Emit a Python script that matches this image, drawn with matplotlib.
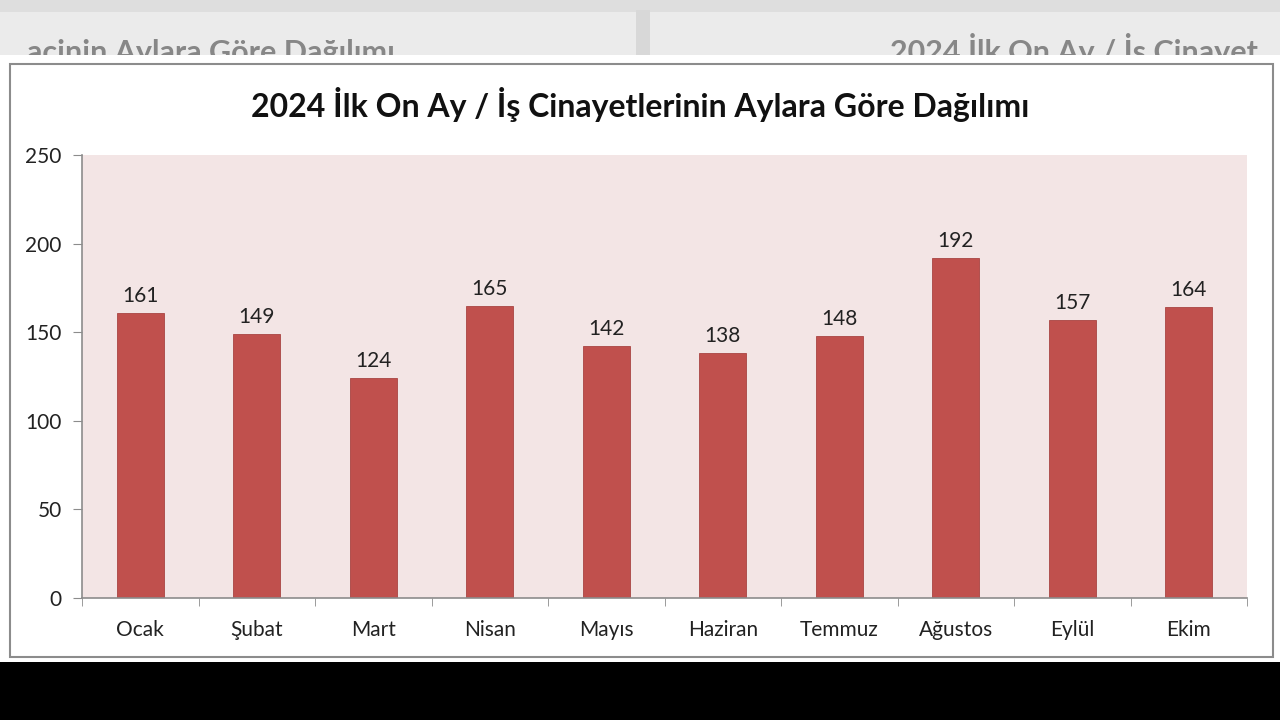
import matplotlib
matplotlib.use("Agg")
import matplotlib.pyplot as plt
from matplotlib.patches import Rectangle

months = ["Ocak", "Şubat", "Mart", "Nisan", "Mayıs", "Haziran", "Temmuz", "Ağustos", "Eylül", "Ekim"]
values = [161, 149, 124, 165, 142, 138, 148, 192, 157, 164]
yticks = [0, 50, 100, 150, 200, 250]
title = "2024 İlk On Ay / İş Cinayetlerinin Aylara Göre Dağılımı"
bg_left = "acinin Aylara Göre Dağılımı"
bg_right = "2024 İlk On Ay / İş Cinayet"

W, H = 1280, 720
fig = plt.figure(figsize=(12.8, 7.2), dpi=100)
fig.patch.set_facecolor("white")

def fx(px):
    return px / W

def fy(py):
    return 1 - py / H

font = "Lato"

# background screenshot elements
fig.patches.append(Rectangle((0, fy(55)), 1, 55 / H, transform=fig.transFigure,
                             facecolor="#ebebeb", edgecolor="none", zorder=0))
fig.patches.append(Rectangle((0, fy(12)), 1, 12 / H, transform=fig.transFigure,
                             facecolor="#dedede", edgecolor="none", zorder=0))
fig.patches.append(Rectangle((fx(636), fy(55)), 14 / W, 45 / H, transform=fig.transFigure,
                             facecolor="#d8d8d8", edgecolor="none", zorder=0))
fig.text(fx(395), fy(62), bg_left, ha="right", va="baseline", fontsize=22,
         fontweight="bold", family=font, color="#444444", alpha=0.6, zorder=0.2)
fig.text(fx(890), fy(62), bg_right, ha="left", va="baseline", fontsize=22,
         fontweight="bold", family=font, color="#444444", alpha=0.6, zorder=0.2)
fig.patches.append(Rectangle((0, fy(64)), 1, 9 / H, transform=fig.transFigure,
                             facecolor="white", edgecolor="none", zorder=0.5))
fig.patches.append(Rectangle((0, 0), 1, 58 / H, transform=fig.transFigure,
                             facecolor="black", edgecolor="none", zorder=0))
# chart frame
fig.patches.append(Rectangle((fx(10), fy(657)), (1273 - 10) / W, (657 - 64) / H,
                             transform=fig.transFigure, facecolor="white",
                             edgecolor="#8c8c8c", linewidth=1.5, zorder=1))

ax = fig.add_axes([fx(82), fy(598), (1247 - 82) / W, (598 - 155) / H])
ax.set_zorder(2)
ax.set_facecolor("#f3e5e5")

x = list(range(len(months)))
ax.bar(x, values, width=0.4, color="#c0504d", edgecolor="#a94542", linewidth=0.6)
for xi, v in zip(x, values):
    ax.text(xi, v + 4, str(v), ha="center", va="bottom", fontsize=15,
            family=font, color="#222222")

ax.set_xlim(-0.5, len(months) - 0.5)
ax.set_ylim(0, 250)
ax.set_yticks(yticks)
ax.set_yticklabels([str(t) for t in yticks], fontsize=15, family=font, color="#222222")
ax.set_xticks(x)
ax.set_xticklabels(months, fontsize=15, family=font, color="#222222")
ax.tick_params(axis="x", length=0, pad=16)
ax.tick_params(axis="y", length=6.5, color="#8c8c8c", pad=8)
ax.set_xticks([i - 0.5 for i in range(len(months) + 1)], minor=True)
ax.tick_params(axis="x", which="minor", length=6, color="#8c8c8c", direction="out")

for s in ["top", "right"]:
    ax.spines[s].set_visible(False)
for s in ["left", "bottom"]:
    ax.spines[s].set_color("#8c8c8c")
    ax.spines[s].set_linewidth(1.2)

fig.text(0.5, fy(105), title, ha="center", va="center", fontsize=23,
         fontweight="bold", family=font, color="#111111", zorder=3)

fig.savefig("out.png", dpi=100)
